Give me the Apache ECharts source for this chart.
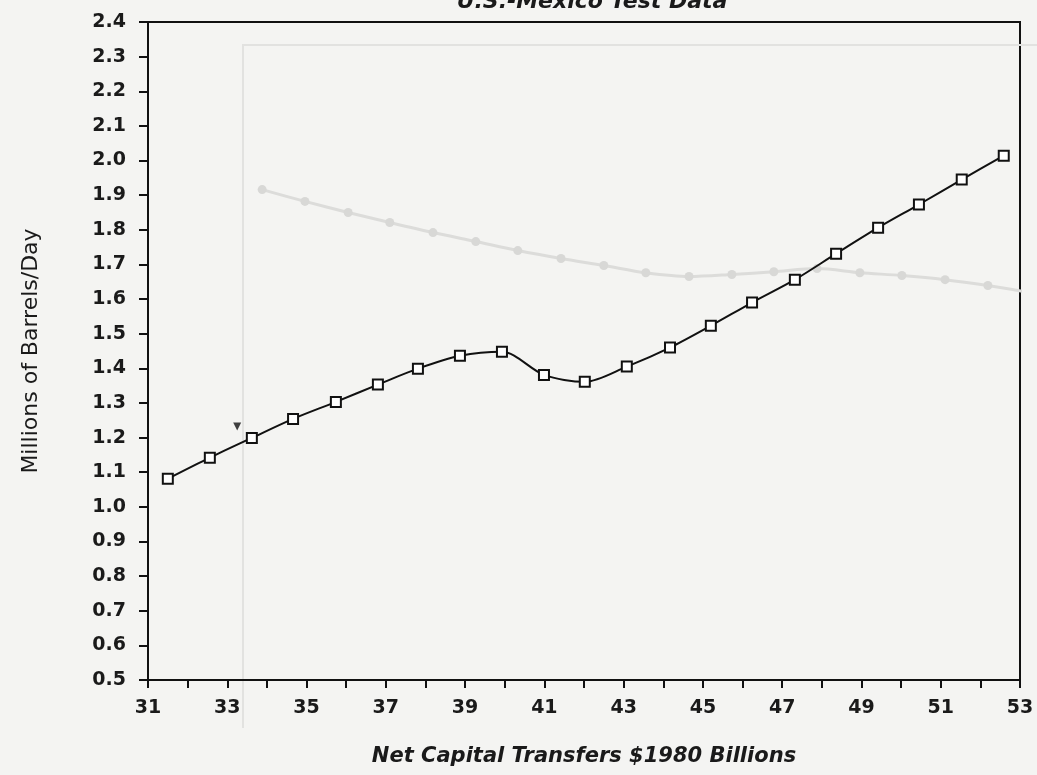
<!DOCTYPE html>
<html>
<head>
<meta charset="utf-8">
<title>U.S.-Mexico Test Data</title>
<script src="https://cdn.jsdelivr.net/npm/echarts@6/dist/echarts.min.js"></script>
<style>
  html, body { margin: 0; padding: 0; background: #f4f4f2; }
  #chart { width: 1037px; height: 775px; }
</style>
</head>
<body>
<div id="chart"></div>
<script>
// Net capital transfers ($1980 billions) vs. oil output (millions of barrels/day)
const transferX = [31.50, 32.56, 33.62, 34.66, 35.74, 36.80, 37.81, 38.87, 39.93, 40.99, 42.02,
                   43.08, 44.17, 45.20, 46.24, 47.32, 48.36, 49.42, 50.45, 51.53, 52.59];
const barrelsY  = [1.081, 1.142, 1.199, 1.254, 1.303, 1.353, 1.399, 1.436, 1.448, 1.381, 1.361,
                   1.405, 1.460, 1.523, 1.590, 1.656, 1.731, 1.806, 1.873, 1.945, 2.014];

// Faint gray comparison curve
const grayX = [33.88, 34.96, 36.05, 37.10, 38.19, 39.27, 40.33, 41.42, 42.50, 43.56,
               44.65, 45.73, 46.79, 47.88, 48.96, 50.02, 51.11, 52.19, 53.12];
const grayY = [1.916, 1.882, 1.850, 1.821, 1.792, 1.766, 1.740, 1.717, 1.697, 1.676,
               1.665, 1.671, 1.679, 1.688, 1.676, 1.668, 1.656, 1.639, 1.621];

// Small pointer mark
const pointerX = [33.25];
const pointerY = [1.232];

const xTickMin = 31, xTickMax = 53;
const yTickMin = 0.5, yTickMax = 2.4;

const titleText = 'U.S.-Mexico Test Data';
const xName = 'Net Capital Transfers $1980 Billions';
const yName = 'Millions of Barrels/Day';

const zip = (xs, ys) => xs.map((x, i) => [x, ys[i]]);

const chart = echarts.init(document.getElementById('chart'), null, { renderer: 'canvas' });

const labelFont = {
  color: '#1a1a1a',
  fontFamily: 'DejaVu Sans',
  fontWeight: 'bold',
  fontSize: 19
};

chart.setOption({
  backgroundColor: '#f4f4f2',
  animation: false,
  title: {
    text: titleText,
    left: 587,
    textAlign: 'center',
    top: -14,
    textStyle: {
      fontFamily: 'DejaVu Sans',
      fontStyle: 'italic',
      fontWeight: 'bold',
      fontSize: 22,
      color: '#1a1a1a'
    }
  },
  graphic: [
    {
      type: 'polyline',
      silent: true,
      z: 0,
      shape: { points: [[243, 728], [243, 45], [1037, 45]] },
      style: { stroke: '#e2e2e0', lineWidth: 2, fill: null }
    }
  ],
  grid: {
    left: 148, right: 17, top: 22, bottom: 95,
    show: true,
    borderColor: '#111',
    borderWidth: 2,
    backgroundColor: 'transparent'
  },
  xAxis: {
    type: 'value',
    min: xTickMin, max: xTickMax, interval: 1,
    name: xName,
    nameLocation: 'middle',
    nameGap: 66,
    nameTextStyle: {
      fontFamily: 'DejaVu Sans', fontStyle: 'italic', fontWeight: 'bold',
      fontSize: 21, color: '#1a1a1a'
    },
    axisLine: { show: true, lineStyle: { color: '#111', width: 2 } },
    axisTick: { show: true, inside: false, length: 8, lineStyle: { color: '#111', width: 2 } },
    axisLabel: Object.assign({
      margin: 19,
      formatter: v => (Math.round(v) % 2 === 1 ? String(Math.round(v)) : '')
    }, labelFont),
    splitLine: { show: false }
  },
  yAxis: {
    type: 'value',
    min: yTickMin, max: yTickMax, interval: 0.1,
    name: yName,
    nameLocation: 'middle',
    nameRotate: 90,
    nameGap: 106,
    nameTextStyle: {
      fontFamily: 'DejaVu Sans', fontSize: 22, color: '#1a1a1a'
    },
    axisLine: { show: true, lineStyle: { color: '#111', width: 2 } },
    axisTick: { show: true, inside: false, length: 9, lineStyle: { color: '#111', width: 2 } },
    axisLabel: Object.assign({
      margin: 22,
      formatter: v => v.toFixed(1)
    }, labelFont),
    splitLine: { show: false }
  },
  series: [
    {
      type: 'line',
      name: 'gray',
      data: zip(grayX, grayY),
      smooth: 0.3,
      symbol: 'circle',
      symbolSize: 9,
      z: 1,
      lineStyle: { color: '#dcdcda', width: 3 },
      itemStyle: { color: '#d8d8d6' }
    },
    {
      type: 'line',
      name: 'output',
      data: zip(transferX, barrelsY),
      smooth: 0.3,
      symbol: 'emptyRect',
      symbolSize: 10,
      z: 3,
      lineStyle: { color: '#111', width: 2 },
      itemStyle: { color: '#111', borderColor: '#111', borderWidth: 2 }
    },
    {
      type: 'scatter',
      name: 'pointer',
      data: zip(pointerX, pointerY),
      symbol: 'triangle',
      symbolRotate: 180,
      symbolSize: 8,
      z: 3,
      itemStyle: { color: '#111' }
    }
  ]
});
</script>
</body>
</html>
